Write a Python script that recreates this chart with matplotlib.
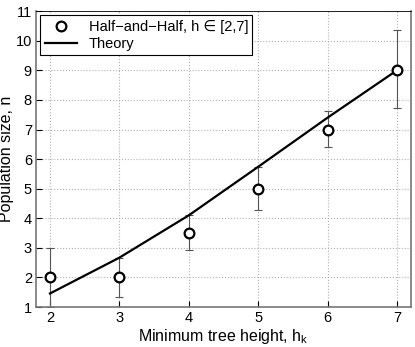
import numpy as np
import matplotlib
matplotlib.use("Agg")
from matplotlib import pyplot as plt

plt.rcParams['font.family'] = ['Liberation Sans', 'DejaVu Sans']

# data
heights = [2, 3, 4, 5, 6, 7]
pop_mean = [2, 2, 3.5, 5, 7, 9]
err_low = [1.0, 1.35, 2.92, 4.28, 6.42, 7.71]
err_high = [3.0, 2.67, 4.1, 5.74, 7.62, 10.35]
theory = [1.46, 2.67, 4.1, 5.74, 7.4, 9.0]

x = np.array(heights)
y = np.array(pop_mean)
yerr = [y - np.array(err_low), np.array(err_high) - y]

fig = plt.figure(figsize=(4.15, 3.47), dpi=100)
ax = fig.add_axes([0.087, 0.115, 0.903, 0.853])

ax.errorbar(x, y, yerr=yerr, fmt='none', ecolor='#555555', elinewidth=0.8,
            capsize=3, capthick=0.8, zorder=2)
ax.plot(x, y, 'o', mfc='white', mec='black', mew=1.6, ms=7,
        label=u'Half\u2212and\u2212Half, h \u2208 [2,7]', zorder=3)
ax.plot(x, theory, '-', color='black', lw=1.6, label='Theory', zorder=2.5)

ax.set_xlim(1.8, 7.2)
ax.set_ylim(1, 11)
ax.set_xticks(heights)
ax.set_yticks(range(1, 12))
ax.tick_params(direction='in', length=4, labelsize=10.5, colors='black', pad=3)
ax.grid(True, linestyle=':', color='#b0b0b0', linewidth=0.8)

for s in ['left', 'bottom', 'right']:
    ax.spines[s].set_color('#777777')
    ax.spines[s].set_linewidth(1.2)
ax.spines['top'].set_color('black')
ax.spines['top'].set_linewidth(0.6)

ax.set_xlabel('Minimum tree height, $\\mathregular{h_k}$', fontsize=11.5, labelpad=1)
ax.set_ylabel('Population size, n', fontsize=11.5, labelpad=1)

leg = ax.legend(loc='upper left', fontsize=10.5, fancybox=False, edgecolor='black',
                framealpha=1, borderaxespad=0.3, handlelength=2.2,
                borderpad=0.3, labelspacing=0.2)
leg.get_frame().set_linewidth(0.8)

fig.savefig('out.png', dpi=100)
